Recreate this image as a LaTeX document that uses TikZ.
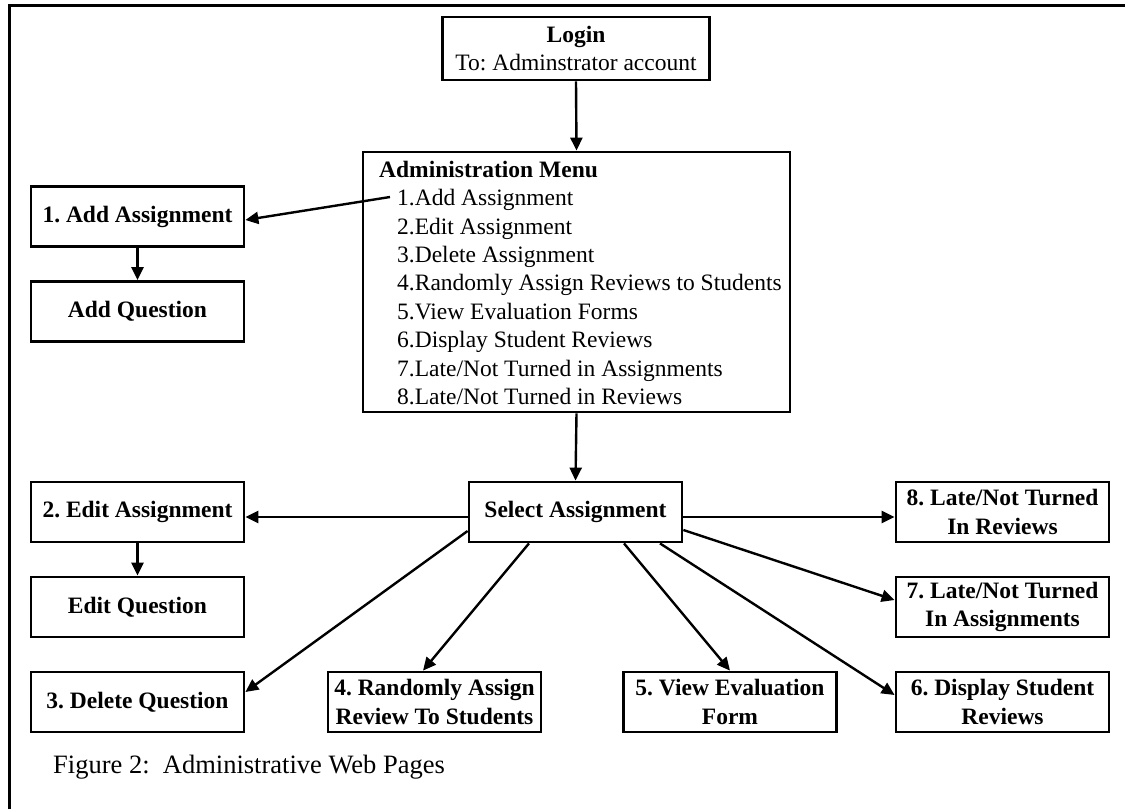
\documentclass[tikz,border=0pt]{standalone}
\usepackage{fontspec}
\setmainfont{Liberation Serif}
\usetikzlibrary{arrows.meta}
\frenchspacing
\begin{document}
\begin{tikzpicture}[x=1pt,y=-1pt,
  every node/.style={font=\fontsize{23.5}{28.4}\selectfont},
  pagebox/.style={draw, line width=2.8pt, minimum width=213pt, minimum height=60pt, inner sep=0pt, align=center, font=\fontsize{23.5}{28.4}\selectfont\bfseries},
  arr/.style={line width=2.4pt, -{Triangle[length=13pt,width=12pt]}}
]
\useasboundingbox (0,0) rectangle (1125,809);
\draw[line width=3pt] (9,809) -- (9,5.5) -- (1125,5.5);

% top
\node[draw, line width=2.8pt, minimum width=267pt, minimum height=63pt, inner sep=0pt, align=center] (login) at (576,48.5)
  {\textbf{Login}\\To: Adminstrator account};
\node[draw, line width=2.8pt, minimum width=427pt, minimum height=260pt, inner sep=0pt] (menu) at (576.5,282) {};
\node[anchor=west, align=left, inner sep=0pt] (menutext) at (379,283)
  {\textbf{Administration Menu}\\
   \hspace*{18pt}1.Add Assignment\\
   \hspace*{18pt}2.Edit Assignment\\
   \hspace*{18pt}3.Delete Assignment\\
   \hspace*{18pt}4.Randomly Assign Reviews to Students\\
   \hspace*{18pt}5.View Evaluation Forms\\
   \hspace*{18pt}6.Display Student Reviews\\
   \hspace*{18pt}7.Late/Not Turned in Assignments\\
   \hspace*{18pt}8.Late/Not Turned in Reviews};
\coordinate (item1) at (390,197);

% left column
\node[pagebox] (addA) at (137.5,216.5) {1. Add Assignment};
\node[pagebox] (addQ) at (137.5,311.5) {Add Question};
\node[pagebox] (editA) at (137.5,512) {2. Edit Assignment};
\node[pagebox] (editQ) at (137.5,607) {Edit Question};
\node[pagebox] (delQ) at (137.5,702) {3. Delete Question};

% centre and right
\node[pagebox] (sel) at (575.5,512) {Select Assignment};
\node[pagebox] (late8) at (1002.5,512) {8. Late/Not Turned\\In Reviews};
\node[pagebox] (late7) at (1002.5,607) {7. Late/Not Turned\\In Assignments};
\node[pagebox] (rand4) at (434.5,702) {4. Randomly Assign\\Review To Students};
\node[pagebox] (eval5) at (730,702) {5. View Evaluation\\Form};
\node[pagebox] (disp6) at (1002.5,702) {6. Display Student\\Reviews};

\node[anchor=west, inner sep=0pt, font=\fontsize{26.5}{30}\selectfont] (caption) at (53,767) {Figure 2:\ \ Administrative Web Pages};

% connectors
\draw[arr] (login.south) -- (menu.north);
\draw[arr] (item1) -- ([yshift=-3.5pt]addA.east);
\draw[arr] (addA.south) -- (addQ.north);
\draw[arr] (menu.south) -- (sel.north);
\draw[arr] ([yshift=-5pt]sel.west) -- ([yshift=-5pt]editA.east);
\draw[arr] (editA.south) -- (editQ.north);
\draw[arr] ([yshift=-5pt]sel.east) -- ([yshift=-5pt]late8.west);
\draw[arr] ([yshift=-18pt]sel.east) -- ([yshift=7pt]late7.west);
\draw[arr] ([yshift=-19pt]sel.west) -- ([yshift=10pt]delQ.east);
\draw[arr] ([xshift=-46.5pt]sel.south) -- ([xshift=-11.5pt]rand4.north);
\draw[arr] ([xshift=48.5pt]sel.south) -- (eval5.north);
\draw[arr] ([xshift=84.5pt]sel.south) -- ([yshift=7pt]disp6.west);
\end{tikzpicture}
\end{document}
